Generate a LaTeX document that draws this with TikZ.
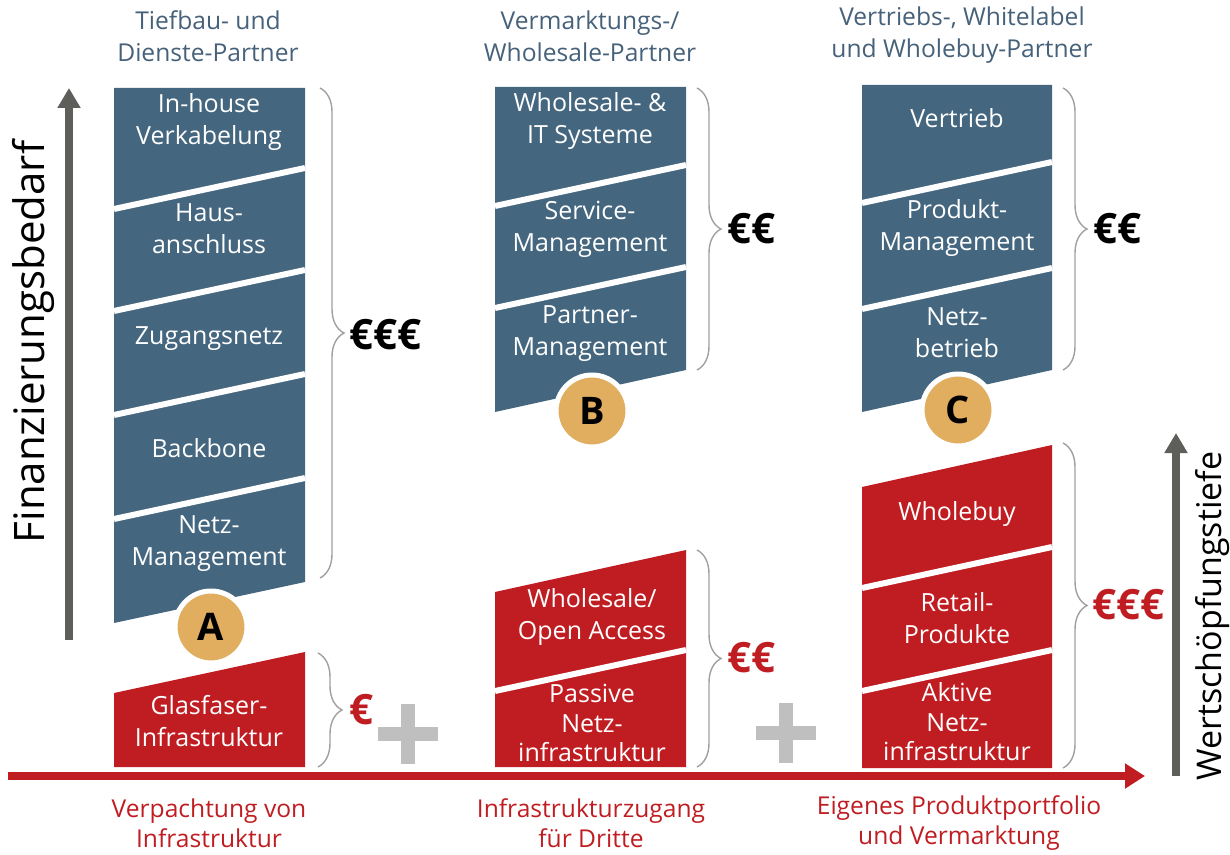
\documentclass[tikz,border=0pt]{standalone}
\usepackage{fontspec}
\setmainfont{Open Sans}
\usetikzlibrary{decorations.pathreplacing,arrows.meta}
\definecolor{slate}{HTML}{44667F}
\definecolor{wine}{HTML}{C01D22}
\definecolor{gold}{HTML}{E0AE5E}
\definecolor{axisgray}{HTML}{5E5F5A}
\definecolor{plusgray}{HTML}{BFBFBF}
\definecolor{bracegray}{HTML}{A0A0A0}
\definecolor{headblue}{HTML}{46617A}

\tikzset{
  blk/.style={text=white, align=center, font=\fontsize{12.5}{16}\selectfont, inner sep=0pt},
  blktight/.style={blk, font=\fontsize{12.5}{14.8}\selectfont},
  head/.style={text=headblue, align=center, font=\fontsize{12.3}{16}\selectfont, inner sep=0pt},
  foot/.style={text=wine, align=center, font=\fontsize{12.3}{15}\selectfont, inner sep=0pt},
  gap/.style={white, line width=3pt},
  brc/.style={draw=bracegray, line width=0.7pt, decorate, decoration={brace, amplitude=12pt}},
  money/.style={font=\bfseries\fontsize{21}{21}\selectfont, anchor=west, inner sep=0pt},
  circ/.style={circle, fill=gold, draw=white, line width=2.5pt, minimum size=36pt, inner sep=0pt,
               font=\bfseries\fontsize{19}{19}\selectfont},
  axis/.style={draw=axisgray, line width=4pt, -{Triangle[length=10pt, width=11pt]}},
  plus/.style={fill=plusgray},
}

\begin{document}
\begin{tikzpicture}[x=0.5pt, y=-0.5pt]
\useasboundingbox (0,0) rectangle (1230,855);

% ---------- column A ----------
\fill[slate] (114,88) -- (305,88) -- (305,582) -- (114,623) -- cycle;
\foreach \r in {168,270,374,478} \draw[gap] (114,\r+41) -- (305,\r);
\fill[wine] (114,693) -- (305,652) -- (305,767) -- (114,767) -- cycle;

% ---------- column B ----------
\fill[slate] (495,87) -- (686,87) -- (686,370) -- (495,412) -- cycle;
\foreach \r in {165,267} \draw[gap] (495,\r+41) -- (686,\r);
\fill[wine] (495,592) -- (686,550) -- (686,767) -- (495,767) -- cycle;
\draw[gap] (495,691) -- (686,650);

% ---------- column C ----------
\fill[slate] (862,85) -- (1052,85) -- (1052,370) -- (862,412) -- cycle;
\foreach \r in {162,268} \draw[gap] (862,\r+41) -- (1052,\r);
\fill[wine] (862,487) -- (1052,445) -- (1052,768) -- (862,768) -- cycle;
\foreach \r in {547,650} \draw[gap] (862,\r+41) -- (1052,\r);

% ---------- block labels ----------
\node[blk] (a1) at (209,122) {In-house\\Verkabelung};
\node[blk] (a2) at (209,229) {Haus-\\anschluss};
\node[blk] (a3) at (209,339) {Zugangsnetz};
\node[blk] (a4) at (209,448) {Backbone};
\node[blk] (a5) at (209,544) {Netz-\\Management};
\node[blk] (a6) at (209,721) {Glasfaser-\\Infrastruktur};

\node[blk] (b1) at (590,121) {Wholesale- \&\\IT Systeme};
\node[blk] (b2) at (590,229) {Service-\\Management};
\node[blk] (b3) at (590,334) {Partner-\\Management};
\node[blk] (b4) at (592,617) {Wholesale/\\Open Access};
\node[blktight] (b5) at (592,723) {Passive\\Netz-\\infrastruktur};

\node[blk] (c1) at (957,118) {Vertrieb};
\node[blk] (c2) at (957,228) {Produkt-\\Management};
\node[blk] (c3) at (957,333) {Netz-\\betrieb};
\node[blk] (c4) at (957,514) {Wholebuy};
\node[blk] (c5) at (957,618) {Retail-\\Produkte};
\node[blktight] (c6) at (957,722) {Aktive\\Netz-\\infrastruktur};

% ---------- partner badges ----------
\node[circ] (cA) at (211,627) {A};
\node[circ] (cB) at (592,411) {B};
\node[circ] (cC) at (958,410) {C};

% ---------- braces and costs ----------
\draw[brc] (320,88) -- (320,578);
\draw[brc] (318,653) -- (318,767);
\draw[brc] (697,88) -- (697,370);
\draw[brc] (697,550) -- (697,767);
\draw[brc] (1063,88) -- (1063,370);
\draw[brc] (1063,443) -- (1063,768);

\node[money] (eA) at (349,335) {€€€};
\node[money, text=wine] (eA2) at (349,710) {€};
\node[money] (eB) at (727,229) {€€};
\node[money, text=wine] (eB2) at (727,658) {€€};
\node[money] (eC) at (1093,229) {€€};
\node[money, text=wine] (eC2) at (1092,605) {€€€};

% ---------- plus signs ----------
\fill[plus] (378,727) rectangle (438,741);
\fill[plus] (401,704) rectangle (415,764);
\fill[plus] (756,726) rectangle (816,740);
\fill[plus] (779,703) rectangle (793,763);

% ---------- axes ----------
\coordinate (fb0) at (69,640);
\coordinate (fb1) at (69,88);
\draw[axis] (fb0) -- (fb1);
\node[rotate=90, inner sep=0pt, font=\fontsize{21}{21}\selectfont] (fbl) at (33,342) {Finanzierungsbedarf};

\coordinate (wt0) at (1176,776);
\coordinate (wt1) at (1176,433);
\draw[axis] (wt0) -- (wt1);
\node[rotate=90, inner sep=0pt, font=\fontsize{17}{17}\selectfont] (wtl) at (1213,616) {Wertschöpfungstiefe};

\coordinate (h0) at (8,776);
\coordinate (h1) at (1145,776);
\draw[draw=wine, line width=4pt, -{Triangle[length=10pt, width=12pt]}] (h0) -- (h1);

% ---------- headings ----------
\node[head] (hA) at (208,36) {Tiefbau- und\\Dienste-Partner};
\node[head] (hB) at (590,36) {Vermarktungs-/\\Wholesale-Partner};
\node[head] (hC) at (962,35) {Vertriebs-, Whitelabel\\und Wholebuy-Partner};

% ---------- footers ----------
\node[foot] (fA) at (209,823) {Verpachtung von\\Infrastruktur};
\node[foot] (fB) at (591,823) {Infrastrukturzugang\\für Dritte};
\node[foot] (fC) at (959,823) {Eigenes Produktportfolio\\und Vermarktung};
\end{tikzpicture}
\end{document}
